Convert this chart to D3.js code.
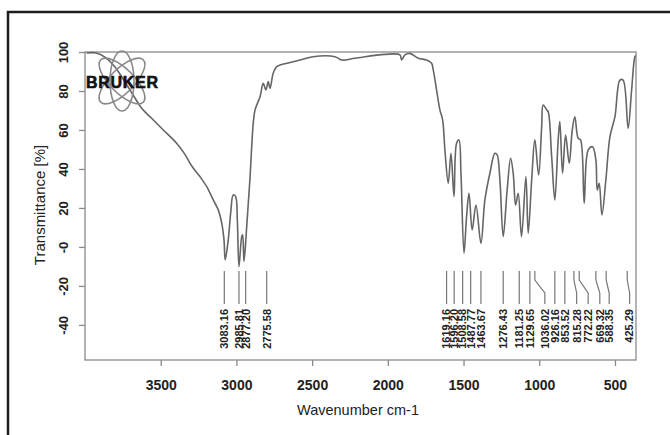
<!DOCTYPE html>
<html>
<head>
<meta charset="utf-8">
<script src="https://cdn.jsdelivr.net/npm/d3@7"></script>
<style>
  body { margin: 0; background: #fff; }
  svg { display: block; font-family: "Liberation Sans", Arial, sans-serif; }
</style>
</head>
<body>
<svg id="chart"></svg>
<script>
// spectrum: [wavenumber, transmittance]
const wavenumbers = [3990, 3927, 3868, 3802, 3736, 3670, 3626, 3560, 3483, 3395, 3340, 3295, 3241, 3196, 3153, 3120,
  3097, 3082, 3074, 3054, 3038, 3021, 3005, 2994, 2983, 2965, 2959, 2950, 2932, 2911, 2889, 2877, 2844, 2823, 2805,
  2790, 2778, 2757, 2734, 2712, 2580, 2495, 2349, 2305, 2217, 2019, 1920, 1909, 1887, 1854, 1799, 1744, 1711, 1700,
  1678, 1656, 1638, 1623, 1601, 1583, 1563, 1546, 1530, 1517, 1497, 1480, 1464, 1443, 1418, 1385, 1359, 1326, 1293,
  1278, 1260, 1238, 1212, 1189, 1172, 1156, 1139, 1117, 1088, 1073, 1050, 1029, 1004, 984, 974, 951, 941, 918, 897,
  875, 864, 846, 826, 802, 782, 765, 743, 727, 703, 677, 648, 626, 617, 604, 586, 560, 533, 500, 467, 446, 413, 390,
  368, 362];
const transmittance = [99.5, 99.5, 97.4, 92.3, 84.6, 76.4, 71.1, 66.0, 60.0, 53.2, 47.5, 41.5, 36.1, 30.9, 24.1, 19.0,
  12.2, 3.6, -6.7, 3.6, 17.3, 26.7, 25.8, 13.8, -10.1, 5.3, 6.2, -7.5, 10.4, 34.4, 63.4, 70.3, 77.1, 83.9, 80.5,
  84.8, 81.4, 89.1, 92.5, 93.3, 95.9, 97.6, 97.6, 95.9, 96.8, 98.8, 98.5, 95.9, 98.5, 99.3, 96.8, 95.9, 94.2, 90.8,
  80.5, 70.3, 65.1, 49.7, 32.7, 48.0, 25.8, 53.2, 54.9, 37.8, -3.2, 15.5, 27.5, 8.7, 21.5, 1.9, 24.1, 37.8, 48.0,
  47.2, 34.4, 5.3, 29.2, 45.5, 37.8, 21.5, 27.5, 5.3, 36.1, 7.0, 34.4, 54.9, 36.9, 61.7, 72.8, 70.3, 69.4, 46.3, 24.1,
  54.9, 64.3, 37.8, 57.4, 42.9, 60.0, 66.8, 55.7, 54.9, 22.4, 49.7, 51.4, 44.6, 29.2, 32.7, 16.4, 34.4, 56.6, 66.8,
  85.6, 85.6, 60.9, 80.5, 97.6, 98.1];

// peak picks: value printed, where the mark starts and where the label sits (wavenumber)
const peakValues = [3083.16, 2985.81, 2877.20, 2775.58, 1619.16, 1596.20, 1508.58, 1487.77, 1463.67, 1276.43,
  1181.25, 1129.65, 1036.02, 926.16, 853.52, 815.28, 772.22, 669.32, 588.35, 425.29];
const peakMarkAt = [3080, 2983, 2939, 2800, 1612, 1562, 1506, 1453, 1385, 1238, 1132, 1062, 1029, 897, 831, 771,
  736, 626, 558, 419];
const peakLabelAt = [3080, 2983, 2939, 2800, 1612, 1562, 1506, 1453, 1385, 1238, 1132, 1062, 963, 897, 831, 753,
  677, 600, 538, 403];

const xTicks = [3500, 3000, 2500, 2000, 1500, 1000, 500];
const yTicks = [100, 80, 60, 40, 20, 0, -20, -40];

const width = 670, height = 435;
const margin = { top: 52, right: 34, bottom: 75, left: 85 };

const svg = d3.select('#chart')
  .attr('width', width)
  .attr('height', height);

// outer black frame of the scan (open at bottom and right)
svg.append('path')
  .attr('d', `M8,${height}V12H${width}`)
  .attr('fill', 'none')
  .attr('stroke', '#1e1e1e')
  .attr('stroke-width', 2.5);

const x = d3.scaleLinear()
  .domain([4000, 361])
  .range([margin.left, width - margin.right]);

const y = d3.scaleLinear()
  .domain([-58, 100])
  .range([height - margin.bottom, margin.top]);

// plot box
svg.append('rect')
  .attr('x', margin.left)
  .attr('y', margin.top)
  .attr('width', width - margin.left - margin.right)
  .attr('height', height - margin.top - margin.bottom)
  .attr('fill', 'none')
  .attr('stroke', '#8a8a8a')
  .attr('stroke-width', 1.3);

// axes
const xAxis = svg.append('g')
  .attr('transform', `translate(0,${height - margin.bottom})`)
  .call(d3.axisBottom(x).tickValues(xTicks).tickSize(6).tickPadding(14).tickFormat(d3.format('d')));

const yAxis = svg.append('g')
  .attr('transform', `translate(${margin.left},0)`)
  .call(d3.axisLeft(y).tickValues(yTicks).tickSize(6).tickFormat(d => d === 0 ? '-0' : d));

[xAxis, yAxis].forEach(g => {
  g.select('.domain').remove();
  g.selectAll('line').attr('stroke', '#8a8a8a').attr('stroke-width', 1.3);
  g.selectAll('text')
    .attr('fill', '#222')
    .attr('font-size', 14)
    .attr('font-weight', 'bold')
    .attr('font-family', '"Liberation Sans", Arial, sans-serif');
});

// y tick labels are turned on their side
yAxis.selectAll('text')
  .attr('x', 0)
  .attr('y', 0)
  .attr('dy', '0.35em')
  .attr('text-anchor', 'middle')
  .attr('font-size', 13)
  .attr('transform', 'translate(-22,0) rotate(-90)');

// axis titles
svg.append('text')
  .attr('x', 358)
  .attr('y', 415)
  .attr('text-anchor', 'middle')
  .attr('font-size', 14.5)
  .attr('fill', '#222')
  .text('Wavenumber cm-1');

svg.append('text')
  .attr('transform', 'translate(40,205) rotate(-90)')
  .attr('dy', '0.35em')
  .attr('text-anchor', 'middle')
  .attr('font-size', 15)
  .attr('fill', '#222')
  .text('Transmittance [%]');

// spectrum
const spectrum = wavenumbers.map((w, i) => [w, transmittance[i]]);

const line = d3.line()
  .x(d => x(d[0]))
  .y(d => y(d[1]))
  .curve(d3.curveCatmullRom.alpha(0.5));

svg.append('path')
  .datum(spectrum)
  .attr('d', line)
  .attr('fill', 'none')
  .attr('stroke', '#666')
  .attr('stroke-width', 1.6)
  .attr('stroke-linejoin', 'round');

// peak marks and labels
const markTop = 271, bendA = 280, bendB = 293, markBottom = 304, labelEnd = 309;
const fmt = d3.format('.2f');

const peaks = svg.append('g').selectAll('g')
  .data(peakValues.map((v, i) => ({ v: v, top: peakMarkAt[i], bot: peakLabelAt[i] })))
  .join('g');

peaks.append('path')
  .attr('d', d => d3.line()([[x(d.top), markTop], [x(d.top), bendA], [x(d.bot), bendB], [x(d.bot), markBottom]]))
  .attr('fill', 'none')
  .attr('stroke', '#777')
  .attr('stroke-width', 1.2);

peaks.append('text')
  .attr('transform', d => `translate(${x(d.bot)},${labelEnd}) rotate(-90)`)
  .attr('dy', '0.35em')
  .attr('text-anchor', 'end')
  .attr('font-size', 11)
  .attr('font-weight', 'bold')
  .attr('fill', '#222')
  .text(d => fmt(d.v));

// Bruker logo in the upper left corner
const logo = svg.append('g').attr('transform', 'translate(122,81)');
[45, -45, 90].forEach(a => {
  logo.append('ellipse')
    .attr('rx', 30)
    .attr('ry', 12)
    .attr('transform', `rotate(${a})`)
    .attr('fill', 'none')
    .attr('stroke', '#888')
    .attr('stroke-width', 1.6);
});
svg.append('text')
  .attr('x', 86)
  .attr('y', 88)
  .attr('font-size', 16)
  .attr('font-weight', 'bold')
  .attr('fill', '#111')
  .attr('stroke', '#111')
  .attr('stroke-width', 0.6)
  .attr('textLength', 72)
  .text('BRUKER');
</script>
</body>
</html>
